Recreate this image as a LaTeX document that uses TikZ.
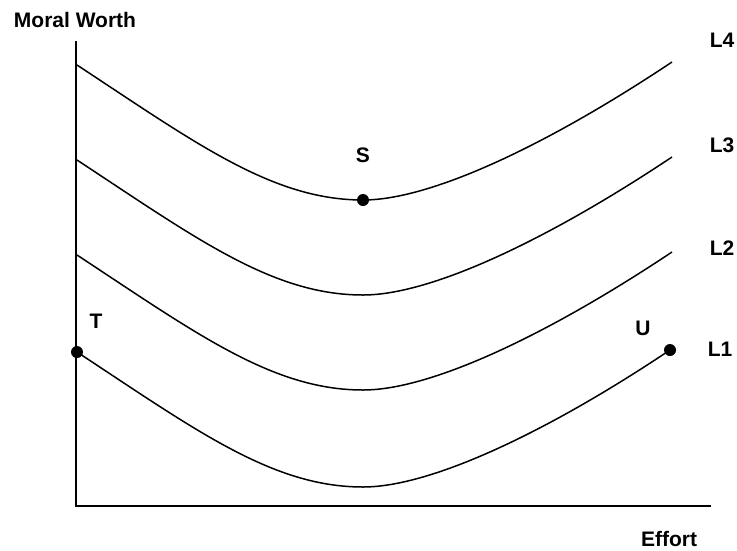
\documentclass[tikz,border=0pt]{standalone}
\usepackage{fontspec}
\setmainfont{Liberation Sans}
\usepackage{xcolor}
\usetikzlibrary{positioning}

\begin{document}
\begin{tikzpicture}[
  x=1pt, y=-1pt,
  axis/.style={line width=2pt, line cap=rect},
  curve/.style={line width=1.5pt},
  dot/.style={circle, fill=black, inner sep=0pt, minimum size=12pt},
  lbl/.style={font=\bfseries\fontsize{21}{25}\selectfont, inner sep=0pt}
]
\useasboundingbox (0,0) rectangle (737,550);
% axes
\coordinate (ytop) at (76,42);
\coordinate (origin) at (76,506);
\coordinate (xend) at (710,506);
\draw[axis] (ytop) -- (origin) -- (xend);
\node[lbl] (ylab) at (75,20) {Moral Worth};
\node[lbl] (xlab) at (669,539) {Effort};
% points
\node[dot] (T) at (77,352) {};
\node[dot] (S) at (363,200) {};
\node[dot] (U) at (670,350) {};
\node[lbl] (Tlab) at (96,321) {T};
\node[lbl] (Slab) at (363,155) {S};
\node[lbl] (Ulab) at (643,328) {U};
% level curves
\draw[curve] (77,65) .. controls (197,144) and (273,200) .. (S.center)
  .. controls (433,200) and (552,142) .. (672,62);
\draw[curve] (77,160) .. controls (197,239) and (273,295) .. (363,295)
  .. controls (433,295) and (552,237) .. (672,157);
\draw[curve] (77,255) .. controls (197,334) and (273,390) .. (363,390)
  .. controls (433,390) and (552,332) .. (672,252);
\draw[curve] (T.center) .. controls (197,431) and (273,487) .. (363,487)
  .. controls (433,487) and (552,429) .. (U.center);
\node[lbl] (L4) at (722,40) {L4};
\node[lbl] (L3) at (722,145) {L3};
\node[lbl] (L2) at (722,248) {L2};
\node[lbl] (L1) at (720,349) {L1};
\end{tikzpicture}
\end{document}
